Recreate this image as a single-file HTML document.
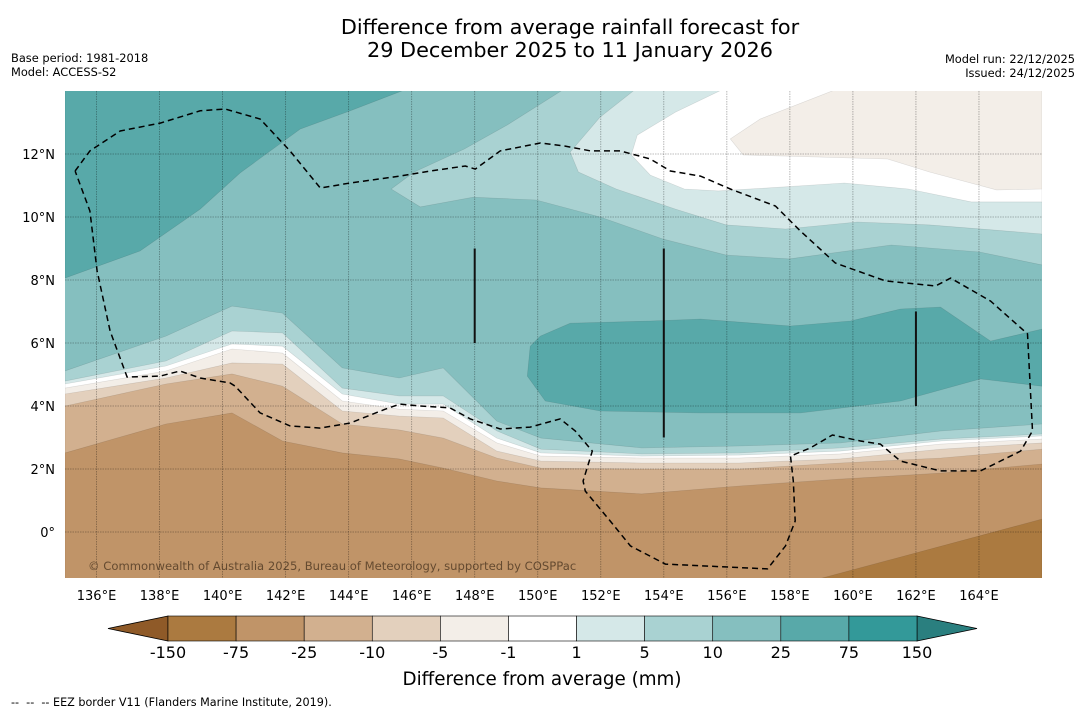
<!DOCTYPE html>
<html><head><meta charset="utf-8">
<style>
html,body{margin:0;padding:0;background:#fff;}
body{width:1085px;height:713px;overflow:hidden;position:relative;font-family:"DejaVu Sans","Liberation Sans",sans-serif;}
svg{position:absolute;left:0;top:0;}
</style></head>
<body>
<svg id="chart" width="1085" height="713" viewBox="0 0 1085 713" xmlns="http://www.w3.org/2000/svg" font-family="DejaVu Sans, Liberation Sans, sans-serif">
  <text x="570" y="34" font-size="20.8" text-anchor="middle" fill="#000">Difference from average rainfall forecast for</text>
  <text x="570" y="57" font-size="20.8" text-anchor="middle" fill="#000">29 December 2025 to 11 January 2026</text>
  <text x="11" y="62" font-size="11.4" fill="#000">Base period: 1981-2018</text>
  <text x="11" y="76" font-size="11.4" fill="#000">Model: ACCESS-S2</text>
  <text x="1075" y="63" font-size="11.4" text-anchor="end" fill="#000">Model run: 22/12/2025</text>
  <text x="1075" y="77" font-size="11.4" text-anchor="end" fill="#000">Issued: 24/12/2025</text>
  <defs><clipPath id="mapclip"><rect x="65" y="91" width="977" height="487"/></clipPath></defs>
  <g id="map" clip-path="url(#mapclip)"></g>
  <g id="axes"></g>
  <g id="cbar"></g>
  <text x="542" y="685" font-size="18.3" text-anchor="middle" fill="#000">Difference from average (mm)</text>
  <text x="11" y="706" font-size="11.2" fill="#000" xml:space="preserve">--  --  -- EEZ border V11 (Flanders Marine Institute, 2019).</text>
</svg>
<script>
// ---- data (lon °E, lat °N) ----
const levelLabels = ["-150","-75","-25","-10","-5","-1","1","5","10","25","75","150"];
const levelColors = ["#ab7a40","#c09468","#d2b08f","#e3d0bd","#f3eee8","#ffffff","#d5e8e8","#a9d2d2","#85bfbf","#58a9a9","#339999"];
const lonTicks = [136,138,140,142,144,146,148,150,152,154,156,158,160,162,164];
const latTicks = [0,2,4,6,8,10,12];
const southLons = [135,138.2,140.3,141.9,143.8,145.6,147,148.7,150.1,153.3,156.4,159.6,162.8,166];
const south5   = [5.11,6.22,7.17,6.95,5.21,4.89,5.21,3.52,2.98,2.67,2.73,2.83,3.21,3.43];
const south1   = [4.79,5.43,6.38,6.32,4.57,4.32,4.32,3.21,2.63,2.48,2.51,2.67,2.95,3.11];
const southM1  = [4.70,5.27,5.97,5.90,4.38,4.06,4.06,2.98,2.51,2.41,2.44,2.57,2.89,3.05];
const southM5  = [4.57,5.11,5.81,5.68,4.16,3.90,3.84,2.83,2.41,2.35,2.35,2.48,2.79,2.95];
const southM10 = [4.38,4.89,5.37,5.33,3.84,3.68,3.62,2.57,2.25,2.19,2.19,2.32,2.63,2.83];
const southM25 = [4.00,4.70,5.02,4.63,3.43,3.24,2.98,2.35,2.03,2.00,2.00,2.19,2.35,2.63];
const southM75 = [2.51,3.43,3.78,2.89,2.51,2.32,2.03,1.62,1.40,1.21,1.46,1.68,1.87,2.16];
const darkLon = [158.7,166]; const darkLat = [-1.55,0.41];
const nwWetLon = [135,145.95,144.05,142.46,140.56,139.29,137.38,135];
const nwWetLat = [14.1,14.1,13.37,12.79,11.40,10.25,8.92,8.06];
const north5Lon = [150.90,166,166,164.02,161.22,157.98,155.98,153.98,151.98,149.95,147.95,146.27,145.35,146.08,147.67,149.03];
const north5Lat = [14.1,14.1,8.48,8.89,9.11,8.67,8.79,9.30,10.0,10.54,10.63,10.32,10.89,11.43,12.16,12.92];
const north1Lon = [153.16,166,166,164.43,162.43,160.14,157.86,155.98,154.37,152.49,151.29,151.03,151.98];
const north1Lat = [14.1,14.1,9.46,9.59,9.75,9.84,9.62,9.75,10.25,10.89,11.43,12.06,13.17];
const whiteLon = [155.98,166,166,163.76,161.76,159.73,157.73,155.73,154.65,153.57,152.97,153.16,154.37];
const whiteLat = [14.1,14.1,10.48,10.48,10.89,11.08,10.95,10.83,10.89,11.33,11.97,12.60,13.33];
const dryNLon = [159.60,166,166,164.56,162.43,161.10,156.52,156.11,157.06];
const dryNLat = [14.1,14.1,10.89,10.86,11.43,11.84,11.97,12.48,13.11];
const blobLon = [150.08,151.03,153.57,155.16,158.02,159.92,161.51,162.78,164.37,166,166,164.05,161.51,158.33,155.16,151.98,150.24,149.67,149.76];
const blobLat = [6.22,6.63,6.70,6.76,6.54,6.70,7.08,7.14,6.06,6.44,4.63,4.86,4.16,3.78,3.78,3.84,4.16,4.95,5.90];
const eezLon = [135.32,135.79,136.75,138.02,139.29,140.08,141.19,142.14,143.10,144.05,145.63,146.59,147.70,148.02,148.81,150.08,150.87,151.67,152.62,153.57,154.21,155.16,156.11,157.54,158.33,159.44,161.03,162.62,163.10,164.37,165.54,165.70,165.32,164.05,162.78,161.51,160.87,160.24,159.35,158.65,158.02,158.11,158.17,157.86,157.29,154.05,152.94,152.30,151.51,151.44,151.73,151.19,150.71,149.76,148.81,147.86,147.22,146.27,145.63,145.16,144.05,143.10,142.14,141.19,140.40,140.24,139.29,138.65,138.02,136.97,136.43,136.02,135.79,135.32];
const eezLat = [11.46,12.10,12.73,12.98,13.37,13.43,13.11,12.10,10.92,11.08,11.30,11.46,11.62,11.52,12.10,12.35,12.25,12.10,12.10,11.84,11.46,11.30,10.89,10.35,9.56,8.54,7.97,7.81,8.06,7.33,6.29,3.21,2.57,1.94,1.94,2.25,2.79,2.89,3.08,2.67,2.41,1.62,0.35,-0.44,-1.17,-1.02,-0.44,0.35,1.30,1.62,2.57,3.21,3.59,3.33,3.27,3.59,3.94,4.00,4.06,3.90,3.46,3.30,3.37,3.78,4.63,4.73,4.89,5.11,4.95,4.92,6.38,8.29,10.19,11.46];
const barLon = [148,154,162];
const barTop = [9,9,7];
const barBot = [6,3,4];

const X0=65,Y0=91,W=977,H=487, LON0=135, LON1=166, LAT0=-1.46, LAT1=14;
const xs = lon => X0 + (lon-LON0)/(LON1-LON0)*W;
const ys = lat => Y0 + (LAT1-lat)/(LAT1-LAT0)*H;
const NS='http://www.w3.org/2000/svg';
const map=document.getElementById('map'), axes=document.getElementById('axes'), cbar=document.getElementById('cbar');
function mk(tag, attrs, parent){const e=document.createElementNS(NS,tag);for(const k in attrs)e.setAttribute(k,attrs[k]);parent.appendChild(e);return e;}
function polyPts(lons,lats){return lons.map((l,i)=>xs(l).toFixed(1)+','+ys(lats[i]).toFixed(1)).join(' ');}

let r=mk('rect',{x:X0,y:Y0,width:W,height:H,fill:levelColors[8]},map);



function region(lons,lats,color,name){
  const p=mk('polygon',{points:polyPts(lons,lats),fill:color,stroke:'rgba(0,0,0,0.12)','stroke-width':0.6},map);
  
  
}
region(nwWetLon,nwWetLat,levelColors[9],'region-nw-25-75mm');
region(north5Lon,north5Lat,levelColors[7],'region-north-5-10mm');
region(north1Lon,north1Lat,levelColors[6],'region-north-1-5mm');
region(whiteLon,whiteLat,levelColors[5],'region-north-near-average');
region(dryNLon,dryNLat,levelColors[4],'region-north-dry-minus5');
region(blobLon,blobLat,levelColors[9],'region-central-25-75mm');

const southBands=[[south5,7,'band-south-5-10mm'],[south1,6,'band-south-1-5mm'],[southM1,5,'band-south-near-average'],[southM5,4,'band-south-minus1-minus5'],[southM10,3,'band-south-minus5-minus10'],[southM25,2,'band-south-minus10-minus25'],[southM75,1,'band-south-minus25-minus75']];
southBands.forEach(b=>{
  const lons=southLons.concat([166,135]);
  const lats=b[0].concat([-3,-3]);
  region(lons,lats,levelColors[b[1]],b[2]);
});
region(darkLon.concat([166]),darkLat.concat([-3]),levelColors[0],'band-south-minus75-minus150');

lonTicks.forEach(l=>{
  const g=mk('line',{x1:xs(l),x2:xs(l),y1:Y0,y2:Y0+H,stroke:'rgba(0,0,0,0.35)','stroke-width':0.8,'stroke-dasharray':'1.5,1'},map);
  
  
  const t=mk('text',{x:xs(l),y:600,'font-size':13,'text-anchor':'middle',fill:'#000'},axes);
  t.textContent=l+'°E';
  
  
});
latTicks.forEach(l=>{
  const g=mk('line',{x1:X0,x2:X0+W,y1:ys(l),y2:ys(l),stroke:'rgba(0,0,0,0.35)','stroke-width':0.8,'stroke-dasharray':'1.5,1'},map);
  
  
  const t=mk('text',{x:55,y:ys(l)+5,'font-size':13,'text-anchor':'end',fill:'#000'},axes);
  t.textContent=l===0?'0°':l+'°N';
  
  
});

const eez=mk('polyline',{points:polyPts(eezLon,eezLat),fill:'none',stroke:'#000','stroke-width':1.5,'stroke-dasharray':'6,4'},map);


barLon.forEach((l,i)=>{
  const b=mk('line',{x1:xs(l),x2:xs(l),y1:ys(barTop[i]),y2:ys(barBot[i]),stroke:'#111','stroke-width':2},map);
  
  
});
const cp=mk('text',{x:88,y:570,'font-size':11.6,fill:'rgba(70,50,30,0.75)'},map);
cp.textContent='© Commonwealth of Australia 2025, Bureau of Meteorology, supported by COSPPac';



const CB0=168,CB1=917,CBY=616,CBH=25;
const segW=(CB1-CB0)/levelColors.length;
const lt=mk('polygon',{points:`${CB0},${CBY} ${108},${CBY+CBH/2} ${CB0},${CBY+CBH}`,fill:'#8f5a28',stroke:'#000','stroke-width':0.8},cbar);


const rt=mk('polygon',{points:`${CB1},${CBY} ${977},${CBY+CBH/2} ${CB1},${CBY+CBH}`,fill:'#2a7f7f',stroke:'#000','stroke-width':0.8},cbar);


levelColors.forEach((c,i)=>{
  const s=mk('rect',{x:CB0+i*segW,y:CBY,width:segW,height:CBH,fill:c,stroke:'#000','stroke-width':0.6},cbar);
  
  
});
levelLabels.forEach((t,i)=>{
  const e=mk('text',{x:CB0+i*segW,y:658,'font-size':16,'text-anchor':'middle',fill:'#000'},cbar);
  e.textContent=t;
  
  
});
</script>
</body></html>
